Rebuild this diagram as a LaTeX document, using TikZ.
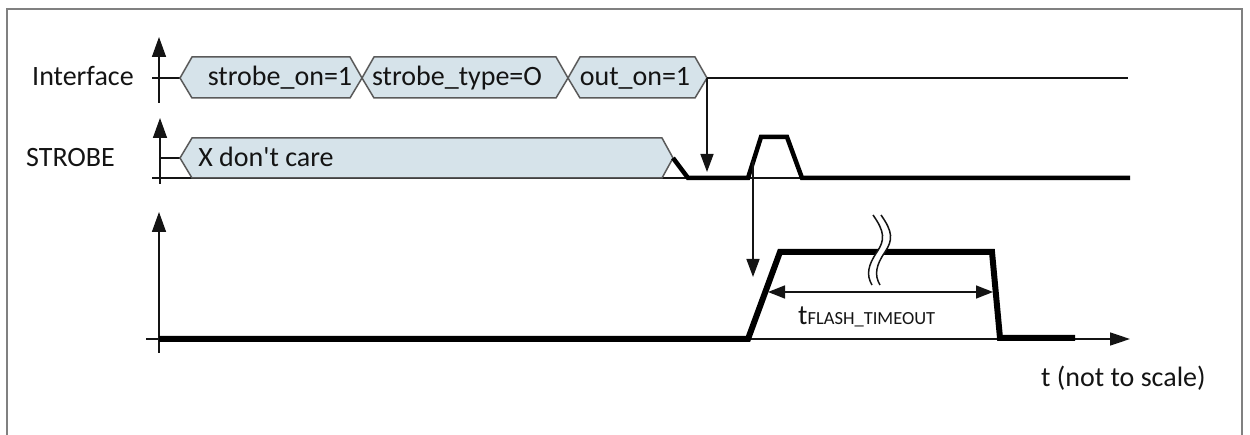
\documentclass[tikz,border=0pt]{standalone}
\usepackage{fontspec}
\setmainfont{Carlito}[Ligatures=TeXOff]
\usetikzlibrary{arrows.meta}
\definecolor{hexfill}{RGB}{214,227,234}
\definecolor{hexline}{RGB}{90,90,90}
\definecolor{framegray}{RGB}{128,128,128}
\definecolor{ink}{RGB}{20,20,20}
\tikzset{
  thinline/.style={line width=1.5pt, draw=ink},
  axisline/.style={line width=1.5pt, draw=ink, -{Triangle[length=20pt,width=14pt]}},
  hexbox/.style={line width=1.5pt, draw=hexline, fill=hexfill, line join=miter},
  sigthick/.style={line width=4.5pt, draw=black, line join=miter},
  sigbold/.style={line width=6pt, draw=black, line join=miter},
  trigarrow/.style={line width=1.5pt, draw=ink, -{Triangle[length=18pt,width=13pt]}},
  dimarrow/.style={line width=1.5pt, draw=ink, {Triangle[length=17pt,width=13pt]}-{Triangle[length=17pt,width=13pt]}},
  lbl/.style={inner sep=0pt, text=ink, font=\fontsize{28}{32}\selectfont, anchor=base},
  lblw/.style={lbl, anchor=base west},
}
\begin{document}
\begin{tikzpicture}[x=1pt,y=-1pt]
\useasboundingbox (0,0) rectangle (1250,435);
% frame
\draw[framegray, line width=2pt] (7,445) -- (7,9) -- (1242,9) -- (1242,445);

% ---------- Interface row ----------
\node[lblw] (ifl) at (32,86) {Interface};
\draw[axisline] (159,103) -- (159,37);
\draw[thinline] (152,78) -- (180,78);
\draw[hexbox] (180,78) -- (192,57) -- (350,57) -- (362,78) -- (350,98) -- (192,98) -- cycle;
\draw[hexbox] (362,78) -- (374,57) -- (556,57) -- (568,78) -- (556,98) -- (374,98) -- cycle;
\draw[hexbox] (568,78) -- (580,57) -- (695,57) -- (707,78) -- (695,98) -- (580,98) -- cycle;
\node[lbl] (s1) at (280,86) {strobe\_on=1};
\node[lbl] (s2) at (457,86) {strobe\_type=O};
\node[lbl] (s3) at (635,86) {out\_on=1};
\coordinate (ifend) at (707,78);
\draw[line width=2pt, draw=ink] (ifend) -- (1128,78);

% ---------- STROBE row ----------
\node[lblw] (stl) at (26,167) {STROBE};
\draw[axisline] (160,184) -- (160,118);
\draw[thinline] (152,178) -- (1128,178);
\draw[thinline] (160,158) -- (180,158);
\draw[hexbox] (180,158) -- (192,138) -- (662,138) -- (673,158) -- (662,178) -- (192,178) -- cycle;
\node[lbl] (dc) at (266,167) {X don't care};
\draw[sigthick] (673,158) -- (688,178) -- (748,178) -- (761,137) -- (787,137) -- (802,178) -- (1130,178);
\coordinate (stlow) at (707,172);
\coordinate (pulse) at (753,161);

% ---------- Flash row ----------
\draw[axisline] (159,353) -- (159,212);
\draw[thinline] (146,339) -- (159,339);
\draw[line width=1.5pt, draw=ink, -{Triangle[length=20pt,width=13pt]}] (159,339) -- (1130,339);
\draw[sigbold] (159,339) -- (748,339) -- (780,252) -- (992,252) -- (1000,338) -- (1075,338);
\coordinate (flrise) at (753,277);

% break mark
\draw[white, line width=7pt] (877,213) .. controls (889,230) and (889,240) .. (881,252) .. controls (872,265) and (870,275) .. (876,287);
\draw[line width=1.5pt, draw=ink] (873,215) .. controls (885,232) and (885,240) .. (877,252) .. controls (868,265) and (866,275) .. (872,285);
\draw[line width=1.5pt, draw=ink] (881,215) .. controls (893,232) and (893,240) .. (885,252) .. controls (876,265) and (874,275) .. (880,285);

% dimension
\coordinate (dimL) at (768,292);
\coordinate (dimR) at (993,292);
\draw[dimarrow] (dimL) -- (dimR);
\node[lblw] (tfl) at (798,325) {t{\fontsize{18.5}{21}\selectfont FLASH\_TIMEOUT}};

% time label
\node[lblw] (tl) at (1041,387) {t (not to scale)};

% trigger arrows
\draw[trigarrow] (ifend) -- (stlow);
\draw[trigarrow] (pulse) -- (flrise);
\end{tikzpicture}
\end{document}
